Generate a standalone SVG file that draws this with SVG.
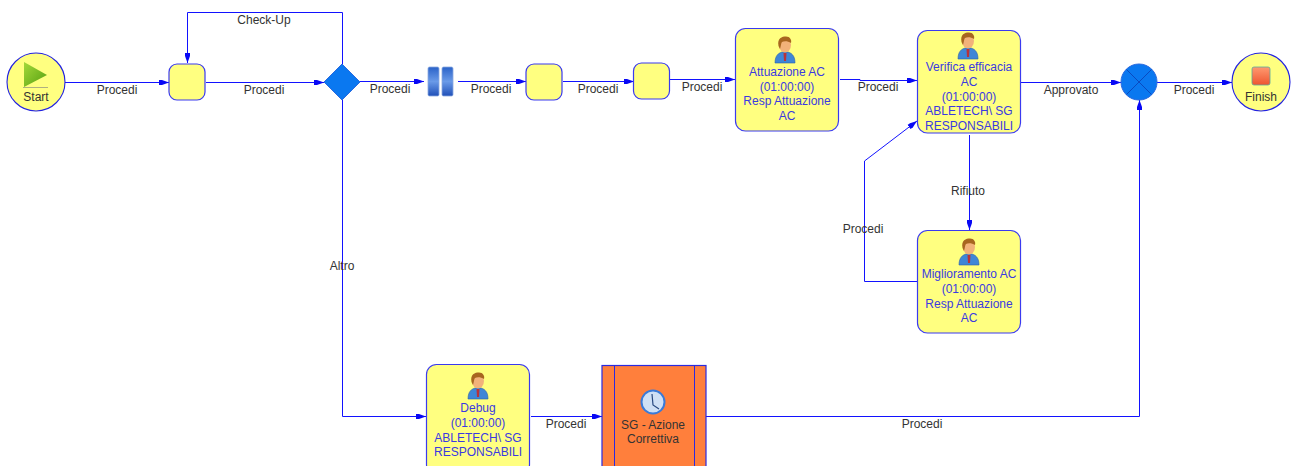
<svg xmlns="http://www.w3.org/2000/svg" width="1292" height="466" viewBox="0 0 1292 466">
<style>
text{font-family:"Liberation Sans",Arial,sans-serif;font-size:12px;text-anchor:middle;fill:#333}
.t text{fill:#3a3ae0}
.n{fill:#ffff80;stroke:#3a3af0;stroke-width:1.2}
.c{fill:none;stroke:#1212ff;stroke-width:1}
.k text{fill:#333}
</style>
<defs>
<marker id="a" markerWidth="11" markerHeight="8" refX="10" refY="4" orient="auto" markerUnits="userSpaceOnUse"><path d="M0 1.500L3 1.500L10 4L3 6.500L0 6.500Z" fill="#0808f5"/></marker>
<linearGradient id="g1" x1="0" y1="0" x2="1" y2="1"><stop offset="0" stop-color="#a4d83a"/><stop offset="1" stop-color="#55a010"/></linearGradient>
<linearGradient id="g2" x1="0" y1="0" x2="0" y2="1"><stop offset="0" stop-color="#ff9a70"/><stop offset="1" stop-color="#ee5530"/></linearGradient>
<linearGradient id="g3" x1="0" y1="0" x2="0" y2="1"><stop offset="0" stop-color="#2a62c8"/><stop offset=".5" stop-color="#6a9ae8"/><stop offset="1" stop-color="#2050b8"/></linearGradient>
<g id="p">
<path d="M-10 13C-10 5-6 3-3 2L3 2C6 3 10 5 10 13Z" fill="#3f86d6" stroke="#2a5fa8" stroke-width=".6"/>
<path d="M-1.500 3L1.500 3L1 11L-1 11Z" fill="#b8323a"/>
<ellipse cx="0" cy="-5" rx="6" ry="7.500" fill="#f2b27a"/>
<path d="M-6.500-4C-8-12-3-13.500 1-13.500C5-13.500 7-10 6-7C3-9-1-9-3-8C-4-7-4-4-5-1Z" fill="#a8661f"/>
</g>
</defs>
<rect width="1292" height="466" fill="#fff"/>
<g id="connectors" class="c">
<path d="M65 82.500H169" marker-end="url(#a)"/>
<path d="M206 82.500H324" marker-end="url(#a)"/>
<path d="M342.500 64V12.500H187.500V63" marker-end="url(#a)"/>
<path d="M360 81.500H424" marker-end="url(#a)"/>
<path d="M458 81.500H526" marker-end="url(#a)"/>
<path d="M563 81.500H634" marker-end="url(#a)"/>
<path d="M670 79.500H735" marker-end="url(#a)"/>
<path d="M840 79.500H860V80.500H917" marker-end="url(#a)"/>
<path d="M1021 82.500H1121" marker-end="url(#a)"/>
<path d="M1157 82.500H1232" marker-end="url(#a)"/>
<path d="M342.500 100V416.500H426" marker-end="url(#a)"/>
<path d="M531 416.500H602" marker-end="url(#a)"/>
<path d="M706 416.500H1139.500V100" marker-end="url(#a)"/>
<path d="M969.500 135V230" marker-end="url(#a)"/>
<path d="M917 281.500H864.500V161L917 121" marker-end="url(#a)"/>
</g>
<g id="connector-labels" class="k">
<text x="117" y="94">Procedi</text>
<text x="264" y="94">Procedi</text>
<text x="264" y="24">Check-Up</text>
<text x="390" y="93">Procedi</text>
<text x="491" y="93">Procedi</text>
<text x="598" y="93">Procedi</text>
<text x="702" y="91">Procedi</text>
<text x="878" y="91">Procedi</text>
<text x="1071" y="94">Approvato</text>
<text x="1194" y="94">Procedi</text>
<text x="968" y="195">Rifiuto</text>
<text x="863" y="233">Procedi</text>
<text x="342" y="270">Altro</text>
<text x="566" y="428">Procedi</text>
<text x="922" y="428">Procedi</text>
</g>
<g id="start">
<circle cx="36" cy="82" r="29" fill="#ffff80" stroke="#2222e0" stroke-width="1.1"/>
<path d="M24 62L47 75L24 87Z" fill="url(#g1)"/><path d="M23 87.500H48" stroke="#b0b080"/>
<text x="36" y="101">Start</text>
</g>
<g id="task-1"><rect class="n" x="169" y="64" width="36" height="36" rx="8"/></g>
<g id="gateway-1"><path d="M342 64L360 82L342 100L324 82Z" fill="#0a78f0" stroke="#2a6ae0"/></g>
<g id="pause">
<rect x="428" y="67" width="11" height="29" rx="1.500" fill="url(#g3)" stroke="#8aa8e0" stroke-width=".8"/>
<rect x="442" y="67" width="11" height="29" rx="1.500" fill="url(#g3)" stroke="#8aa8e0" stroke-width=".8"/>
</g>
<g id="task-2"><rect class="n" x="526" y="64" width="36" height="36" rx="8"/></g>
<g id="task-3"><rect class="n" x="633.500" y="63" width="36" height="36" rx="8"/></g>
<g id="attuazione" class="t">
<rect class="n" x="735.500" y="28.500" width="103" height="102.500" rx="10"/>
<use href="#p" x="785" y="50"/>
<text x="787" y="76">Attuazione AC</text>
<text x="787" y="91">(01:00:00)</text>
<text x="787" y="105">Resp Attuazione</text>
<text x="787" y="120">AC</text>
</g>
<g id="verifica" class="t">
<rect class="n" x="917.500" y="30.500" width="103" height="102.500" rx="10"/>
<use href="#p" x="968" y="46"/>
<text x="969" y="71">Verifica efficacia</text>
<text x="969" y="86">AC</text>
<text x="969" y="101">(01:00:00)</text>
<text x="969" y="115">ABLETECH\ SG</text>
<text x="969" y="130" textLength="88" lengthAdjust="spacingAndGlyphs">RESPONSABILI</text>
</g>
<g id="miglioramento" class="t">
<rect class="n" x="917.500" y="230.500" width="103" height="102.500" rx="10"/>
<use href="#p" x="969" y="252"/>
<text x="969" y="278">Miglioramento AC</text>
<text x="969" y="293">(01:00:00)</text>
<text x="969" y="308">Resp Attuazione</text>
<text x="969" y="322">AC</text>
</g>
<g id="gateway-2">
<circle cx="1139" cy="82" r="18" fill="#0a78f0" stroke="#2a6ae0"/>
<path d="M1126.500 69.500L1151.500 94.500M1151.500 69.500L1126.500 94.500" stroke="#0a4ac0"/>
</g>
<g id="finish">
<circle cx="1261" cy="82" r="29" fill="#ffff80" stroke="#2222e0" stroke-width="1.1"/>
<rect x="1252" y="67" width="18" height="18" rx="2" fill="url(#g2)" stroke="#5aa8a0" stroke-width=".8"/>
<text x="1261" y="101">Finish</text>
</g>
<g id="debug" class="t">
<rect class="n" x="426.500" y="364.500" width="103" height="110" rx="10"/>
<use href="#p" x="478" y="386"/>
<text x="478" y="412">Debug</text>
<text x="478" y="427">(01:00:00)</text>
<text x="478" y="442">ABLETECH\ SG</text>
<text x="478" y="456" textLength="88" lengthAdjust="spacingAndGlyphs">RESPONSABILI</text>
</g>
<g id="sg-azione">
<rect x="602" y="365.500" width="104" height="110" fill="#ff7f3c" stroke="#2a2ae0" stroke-width="1.2"/>
<path d="M614.500 365.500V475M694.500 365.500V475" stroke="#2a2ae0" fill="none"/>
<circle cx="653" cy="402" r="11.500" fill="#cfe0f5" stroke="#3a7ad8" stroke-width="2"/>
<path d="M652 394L653 405L659 409" fill="none" stroke="#2a4a80" stroke-width="1.200"/>
<text x="653" y="429">SG - Azione</text>
<text x="653" y="443">Correttiva</text>
</g>
</svg>
